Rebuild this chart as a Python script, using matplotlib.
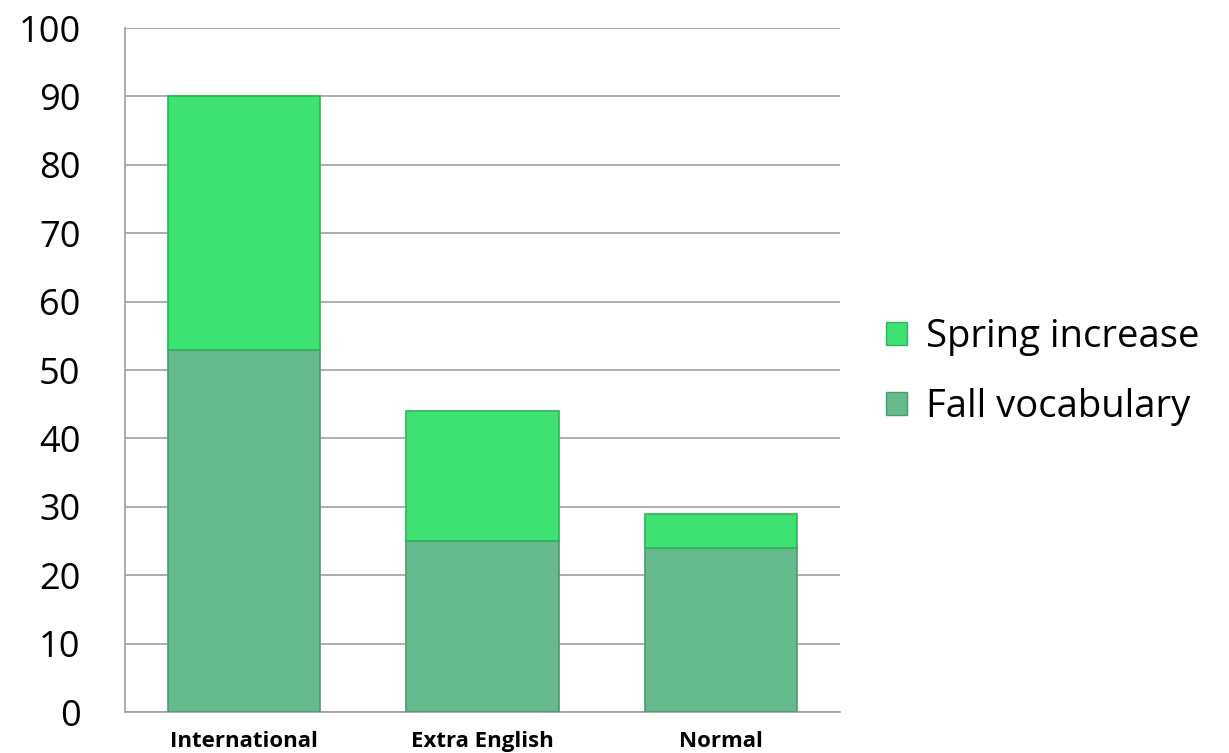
import matplotlib.pyplot as plt
from matplotlib.patches import Patch
import numpy as np

categories = ['International', 'Extra English', 'Normal']
fall_vocab = [53, 25, 24]
spring_increase = [37, 19, 5]

fall_color = '#66bb8e'
spring_color = '#3de273'

plt.rcParams['font.family'] = ['Open Sans', 'DejaVu Sans']

fig = plt.figure(figsize=(12.29, 7.53), dpi=100)
ax = fig.add_axes([0.1017, 0.0544, 0.582, 0.9084])

x = np.arange(len(categories))
ax.bar(x, fall_vocab, width=0.64, color=fall_color,
       edgecolor='#4e9a70', linewidth=1.2, zorder=3)
ax.bar(x, spring_increase, bottom=fall_vocab, width=0.64, color=spring_color,
       edgecolor='#2fb45c', linewidth=1.2, zorder=3)

ax.set_xlim(-0.5, 2.5)
ax.set_ylim(0, 100)
ax.set_yticks(range(0, 101, 10))
ax.set_xticks(x)
ax.set_xticklabels(categories, fontsize=16, fontweight='bold')
ax.tick_params(axis='y', labelsize=26, length=0, pad=32)
ax.tick_params(axis='x', length=0, pad=14)
ax.yaxis.grid(True, color='#a0a0a0', linewidth=1.2, zorder=0)
ax.set_axisbelow(True)
for side in ['top', 'right']:
    ax.spines[side].set_visible(False)
for side in ['left', 'bottom']:
    ax.spines[side].set_color('#a0a0a0')
    ax.spines[side].set_linewidth(1.2)

handles = [Patch(facecolor=spring_color, edgecolor='#2fb45c', label='Spring increase'),
           Patch(facecolor=fall_color, edgecolor='#4e9a70', label='Fall vocabulary')]
fig.legend(handles=handles, loc='center left', bbox_to_anchor=(0.721, 0.506),
           frameon=False, fontsize=27.5, handlelength=0.55, handleheight=0.55,
           handletextpad=0.5, labelspacing=0.85, borderpad=0, borderaxespad=0)

fig.savefig('out.png', dpi=100)
